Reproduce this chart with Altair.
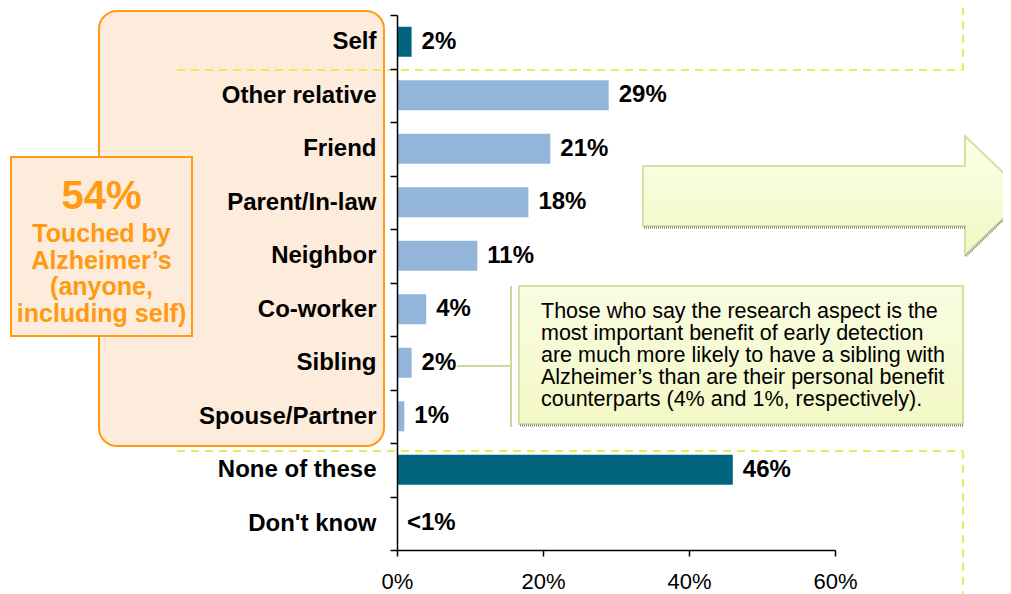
import altair as alt
import pandas as pd

categories = ["Self", "Other relative", "Friend", "Parent/In-law", "Neighbor",
              "Co-worker", "Sibling", "Spouse/Partner", "None of these", "Don't know"]
values = [2, 29, 21, 18, 11, 4, 2, 1, 46, 0]
value_labels = ["2%", "29%", "21%", "18%", "11%", "4%", "2%", "1%", "46%", "<1%"]
groups = ["key", "rel", "rel", "rel", "rel", "rel", "rel", "rel", "key", "rel"]
x_ticks = [0, 20, 40, 60]

note_lines = ["Those who say the research aspect is the",
              "most important benefit of early detection",
              "are much more likely to have a sibling with",
              "Alzheimer\u2019s than are their personal benefit",
              "counterparts (4% and 1%, respectively)."]
touched_big = "54%"
touched_lines = ["Touched by", "Alzheimer\u2019s", "(anyone,", "including self)"]

FONT = "Liberation Sans"
ORANGE = "#FF9A12"
PEACH = "#FDECDB"
LIME = "#E3EE5B"
GREEN_EDGE = "#D3E09E"

df = pd.DataFrame({"category": categories, "value": values,
                   "label": value_labels, "group": groups})
one = pd.DataFrame({"k": [0]})

y_enc = alt.Y("category:N", sort=categories,
              scale=alt.Scale(paddingInner=0, paddingOuter=0),
              axis=alt.Axis(title=None, tickBand="extent", tickSize=7, tickColor="black",
                            domainColor="black", domainWidth=1.5, tickWidth=1.5,
                            labelFont=FONT, labelFontSize=24, labelFontWeight="bold",
                            labelColor="black", labelPadding=14, zindex=1))
x_enc = alt.X("value:Q", scale=alt.Scale(domain=[0, 60]),
              axis=alt.Axis(title=None, values=x_ticks, labelExpr="datum.value + '%'",
                            tickSize=6, tickColor="black", tickWidth=1.5,
                            domainColor="black", domainWidth=1.5, grid=False,
                            labelFont=FONT, labelFontSize=22, labelColor="black",
                            labelPadding=15, labelFlush=False, labelOverlap=False))

# background rounded bracket box
rounded = alt.Chart(one).mark_rect(cornerRadius=18, fill=PEACH, stroke=ORANGE,
                                   strokeWidth=2).encode(
    x=alt.value(-298), x2=alt.value(-13), y=alt.value(-4), y2=alt.value(431))

orange_box = alt.Chart(one).mark_rect(fill=PEACH, stroke=ORANGE, strokeWidth=2).encode(
    x=alt.value(-386), x2=alt.value(-205), y=alt.value(142), y2=alt.value(321))

big_txt = alt.Chart(one).mark_text(text=touched_big, font=FONT, fontSize=40,
                                   fontWeight="bold", color=ORANGE, align="center",
                                   baseline="alphabetic").encode(
    x=alt.value(-295.5), y=alt.value(194))
small_txt = alt.Chart(one).mark_text(text=touched_lines, font=FONT, fontSize=25,
                                     fontWeight="bold", color=ORANGE, align="center",
                                     baseline="alphabetic", lineHeight=26.5).encode(
    x=alt.value(-295.5), y=alt.value(227))

dash = dict(color=LIME, strokeWidth=2, strokeDash=[8, 6])
d1 = alt.Chart(one).mark_rule(**dash).encode(x=alt.value(-220), x2=alt.value(566),
                                             y=alt.value(55), y2=alt.value(55))
d2 = alt.Chart(one).mark_rule(**dash).encode(x=alt.value(566), x2=alt.value(566),
                                             y=alt.value(-8), y2=alt.value(55))
d3 = alt.Chart(one).mark_rule(**dash).encode(x=alt.value(-220), x2=alt.value(566),
                                             y=alt.value(436), y2=alt.value(436))
d4 = alt.Chart(one).mark_rule(**dash).encode(x=alt.value(566), x2=alt.value(566),
                                             y=alt.value(436), y2=alt.value(610))

bars = alt.Chart(df).mark_bar(size=30).encode(
    y=y_enc, x=x_enc,
    color=alt.Color("group:N", scale=alt.Scale(domain=["key", "rel"],
                                               range=["#01657F", "#93B5DA"]),
                    legend=None))
labels = alt.Chart(df).mark_text(align="left", baseline="middle", dx=10, font=FONT,
                                 fontSize=24, fontWeight="bold", color="black").encode(
    y=alt.Y("category:N", sort=categories), x="value:Q", text="label:N")

grad = alt.LinearGradient(gradient="linear", x1=0, y1=0, x2=0, y2=1,
                          stops=[alt.GradientStop(offset=0, color="#FCFEE9"),
                                 alt.GradientStop(offset=1, color="#F2F8C3")])
arrow_path = "M0,0 L322,0 L322,-30 L384,29.5 L322,89 L322,60 L0,60 Z"
arrow = alt.Chart(one).mark_point(shape=arrow_path, size=4, filled=True, fill=grad,
                                  stroke=GREEN_EDGE, strokeWidth=2, opacity=1).encode(
    x=alt.value(246), y=alt.value(151))
shadow = dict(color="#7A7A7A", strokeWidth=2, strokeDash=[1, 1])
s1 = alt.Chart(one).mark_rule(**shadow).encode(x=alt.value(247), x2=alt.value(568),
                                               y=alt.value(212.5), y2=alt.value(212.5))
s2 = alt.Chart(one).mark_rule(**shadow).encode(x=alt.value(569), x2=alt.value(610),
                                               y=alt.value(241), y2=alt.value(201))

conn1 = alt.Chart(one).mark_rule(color="#C9DA9C", strokeWidth=2).encode(
    x=alt.value(60), x2=alt.value(114), y=alt.value(351), y2=alt.value(351))
conn2 = alt.Chart(one).mark_rule(color="#C9DA9C", strokeWidth=2).encode(
    x=alt.value(114), x2=alt.value(114), y=alt.value(271), y2=alt.value(412))

box_grad = alt.LinearGradient(gradient="linear", x1=0, y1=0, x2=0, y2=1,
                              stops=[alt.GradientStop(offset=0, color="#FAFCE2"),
                                     alt.GradientStop(offset=1, color="#F3F8C6")])
note_box = alt.Chart(one).mark_rect(fill=box_grad, stroke=GREEN_EDGE, strokeWidth=2).encode(
    x=alt.value(122), x2=alt.value(566), y=alt.value(271), y2=alt.value(409))
s3 = alt.Chart(one).mark_rule(**shadow).encode(x=alt.value(123), x2=alt.value(566),
                                               y=alt.value(410.5), y2=alt.value(410.5))
note_txt = alt.Chart(one).mark_text(text=note_lines, font=FONT, fontSize=21.5,
                                    color="black", align="left", baseline="alphabetic",
                                    lineHeight=22).encode(
    x=alt.value(144), y=alt.value(303))

chart = alt.layer(
    rounded, orange_box, big_txt, small_txt, d1, d2, d3, d4,
    bars, labels, arrow, s1, s2, conn1, conn2, note_box, s3, note_txt
).properties(
    width=438, height=535,
    padding={"left": 389, "top": 7, "right": 168, "bottom": 52},
    autosize=alt.AutoSizeParams(type="none"),
    background="white"
).configure_view(stroke=None)

chart.save("out.html", embed_options={"renderer": "svg", "actions": False})
